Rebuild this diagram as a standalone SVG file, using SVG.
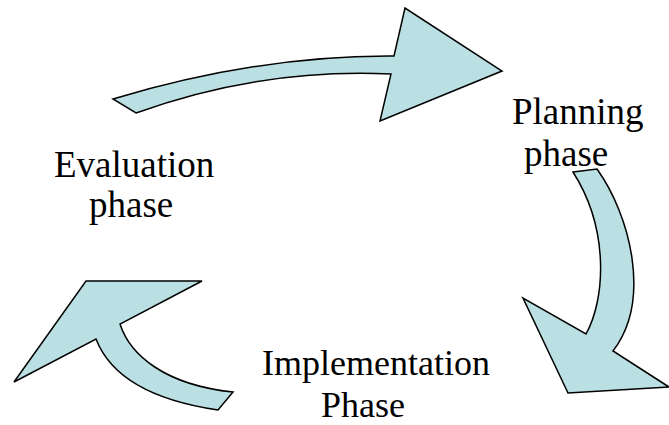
<svg xmlns="http://www.w3.org/2000/svg" width="669" height="425" viewBox="0 0 669 425">
<style>
.arrow{fill:#BBE0E3;stroke:#000;stroke-width:1.5;stroke-linejoin:miter}
.lbl{font-family:"Liberation Serif","Times New Roman",serif;font-size:37px;fill:#000}
.impl{font-size:36px}
</style>
<rect width="669" height="425" fill="#fff"/>
<g id="connectors">
<path id="arrow-top" class="arrow" d="M113,99 Q260,55 394,56 L405,8 L502,71 L380,121 L391,74 Q260,68 136,113 Z"/>
<path id="arrow-right" class="arrow" d="M573,172 L597,169 C630,215 652,300 613,351 L669,387 L568,393 L523,298 L586,334 C605,300 610,230 573,172 Z"/>
<path id="arrow-left" class="arrow" d="M233,392 L218,410 C150,400 110,375 96,339 L14,382 L86,281 L202,281 L120,324 C130,355 165,385 233,392 Z"/>
</g>
<g id="planning">
<text class="lbl" x="512" y="124">Planning</text>
<text class="lbl" x="524" y="166">phase</text>
</g>
<g id="implementation">
<text class="lbl impl" x="262" y="375">Implementation</text>
<text class="lbl impl" x="321" y="417">Phase</text>
</g>
<g id="evaluation">
<text class="lbl" x="54" y="177">Evaluation</text>
<text class="lbl" x="89" y="217">phase</text>
</g>
</svg>
